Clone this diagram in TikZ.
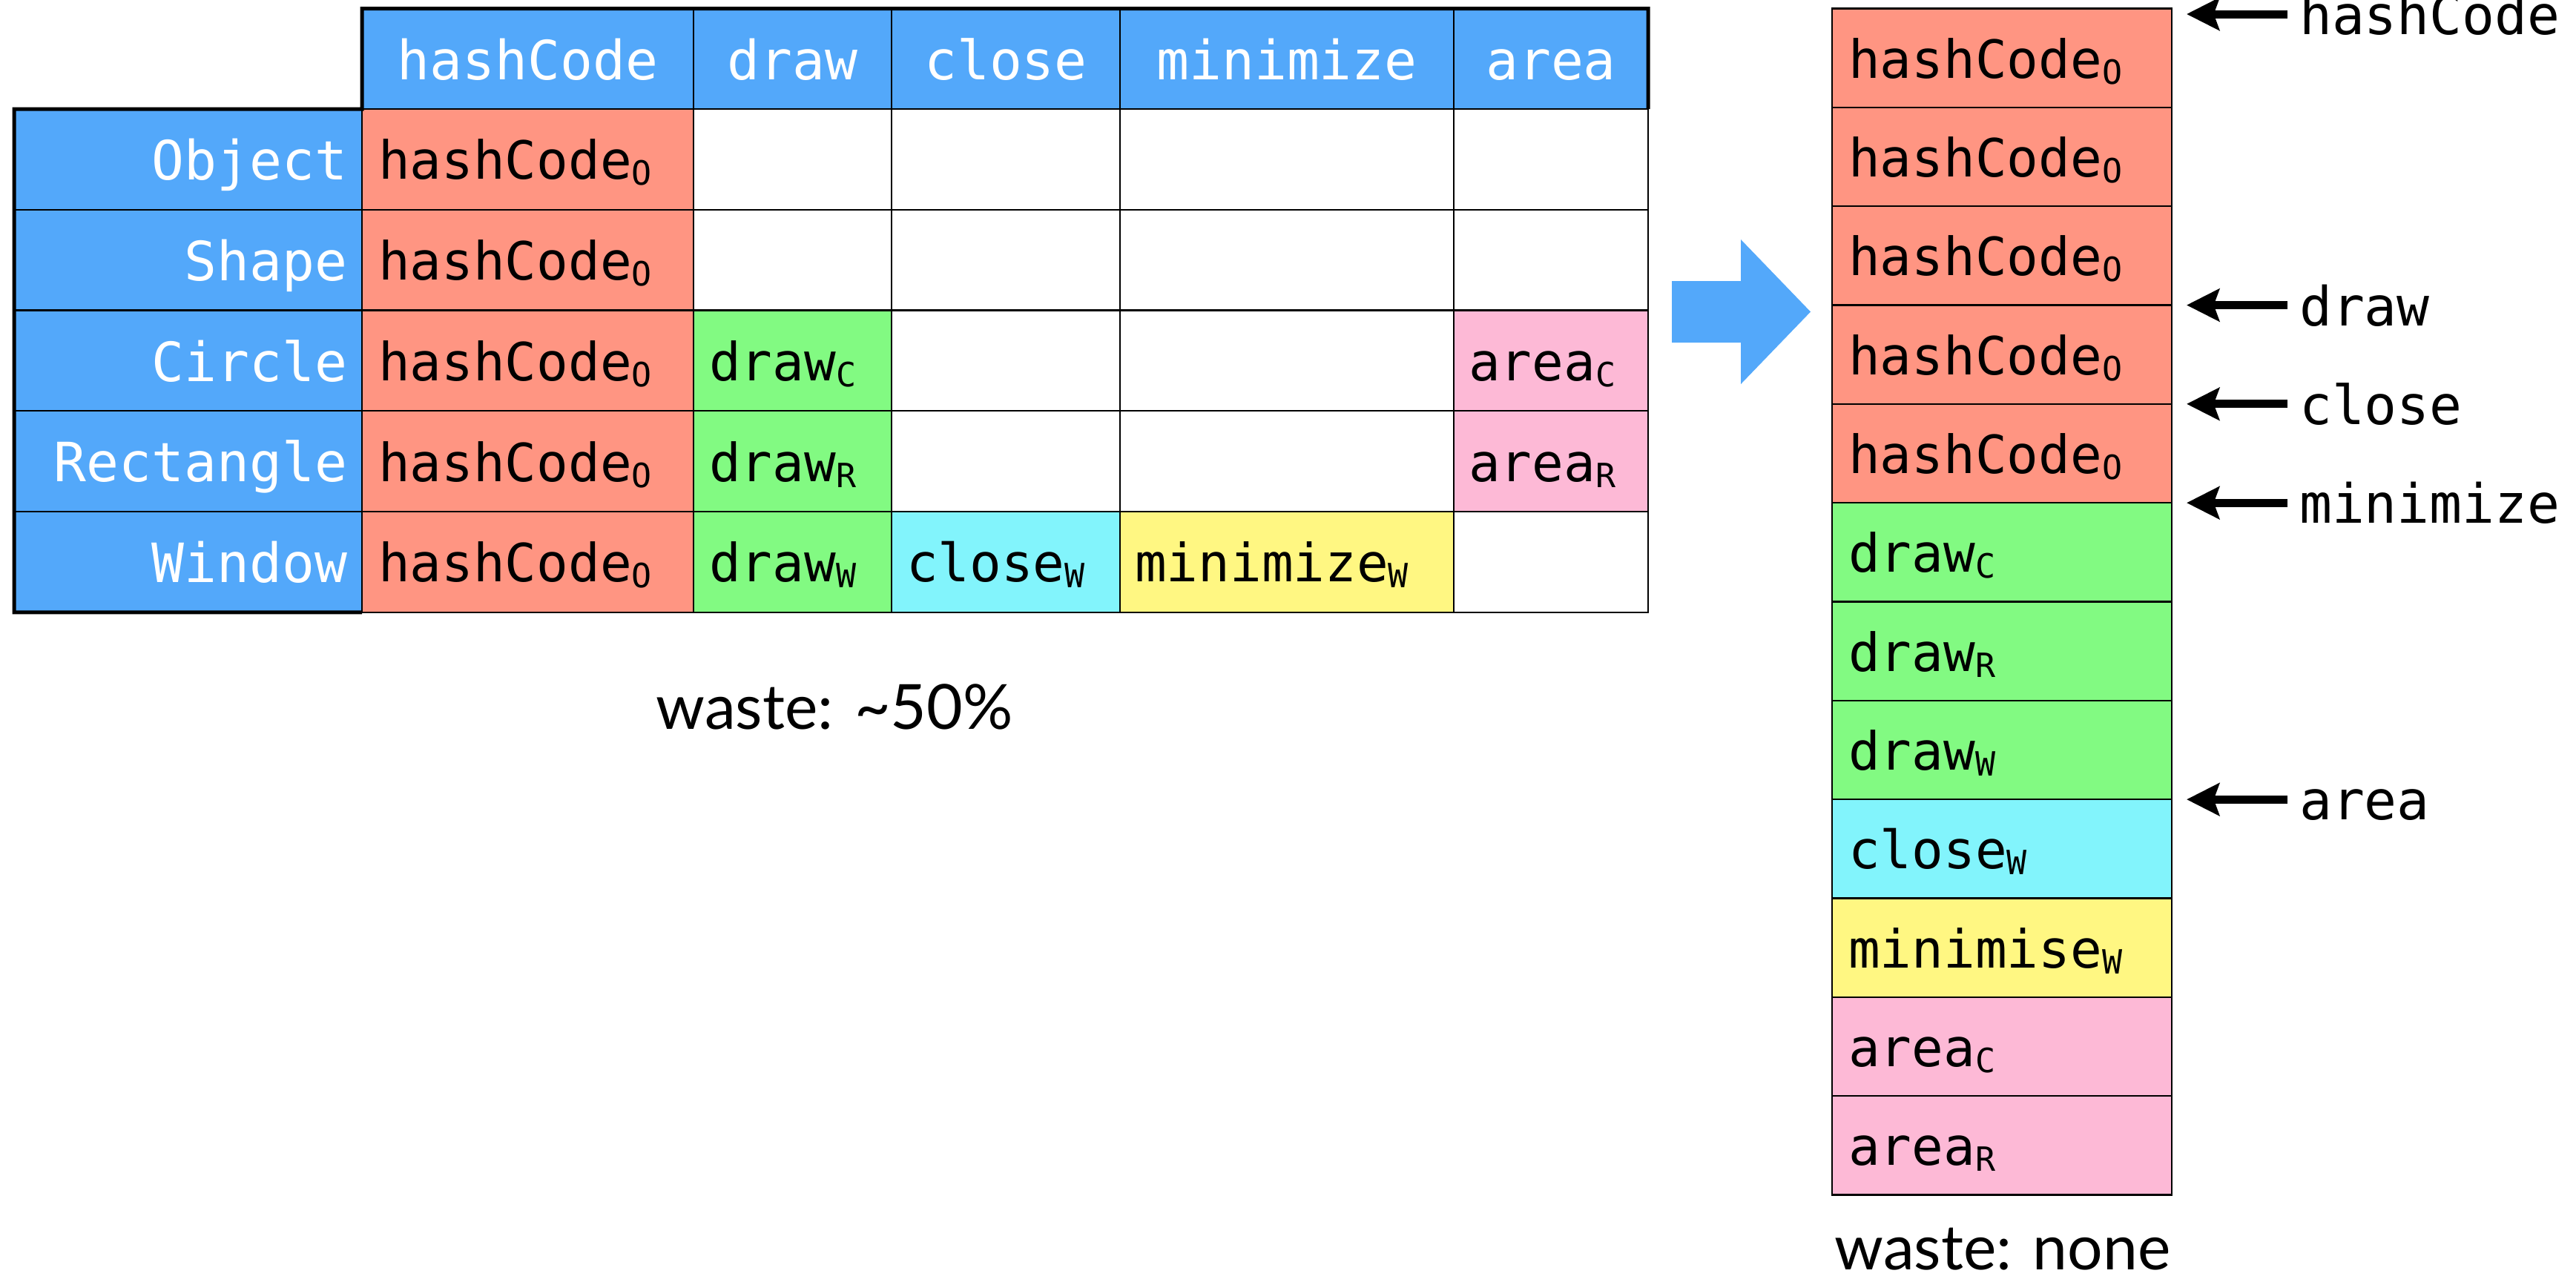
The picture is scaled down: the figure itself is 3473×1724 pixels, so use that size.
\documentclass[tikz,border=0pt]{standalone}
\usepackage{fontspec}
\usetikzlibrary{arrows.meta}
\newfontfamily\monof{DejaVu Sans Mono}
\newfontfamily\sansf{Lato}
\definecolor{hdrblue}{HTML}{53A8FA}
\definecolor{salmon}{HTML}{FF9582}
\definecolor{mgreen}{HTML}{82FA82}
\definecolor{mcyan}{HTML}{82F4FC}
\definecolor{myellow}{HTML}{FFF782}
\definecolor{mpink}{HTML}{FDB9D6}
\newcommand{\sbs}[1]{\raisebox{-1.6pt}{\fontsize{9}{9}\selectfont #1}}
\begin{document}
\begin{tikzpicture}[x=0.2pt,y=-0.2pt, line join=miter,
 every node/.style={outer sep=0pt},
 cellbox/.style={draw=black, line width=0.45pt, inner sep=0pt, anchor=north west, minimum height=27.15pt},
 celltxt/.style={inner sep=0pt, anchor=west, font=\monof\fontsize{14.2}{17}\selectfont, text height=10.8pt, text depth=0pt},
 hdrbox/.style={cellbox, fill=hdrblue, text=white, minimum height=27.1pt, font=\monof\fontsize{14.6}{17}\selectfont, text height=11.1pt, text depth=0pt},
 lblbox/.style={cellbox, fill=hdrblue, minimum width=93.8pt},
 lbltxt/.style={inner sep=0pt, anchor=east, text=white, font=\monof\fontsize{14.6}{17}\selectfont, text height=11.1pt, text depth=0pt},
 stackbox/.style={draw=black, line width=0.5pt, inner sep=0pt, anchor=north west, minimum width=91.6pt, minimum height=26.667pt},
 outline/.style={draw=black, line width=1pt},
 ptr/.style={draw=black, line width=2.2pt, -{Stealth[length=8.8pt,width=8.7pt,inset=1.5pt]}},
 ptrlbl/.style={anchor=west, inner xsep=3.2pt, inner ysep=0pt, font=\monof\fontsize{14.6}{17}\selectfont, text height=11.1pt, text depth=0pt},
 waste/.style={anchor=base, inner sep=0pt, font=\sansf\fontsize{16.8}{20}\selectfont}
]
\useasboundingbox (0,0) rectangle (3473,1724);

% ---- body cells ----
% Object
\node[cellbox, fill=salmon, minimum width=89.4pt] (cOHash) at (488,147) {};
\node[cellbox, fill=white, minimum width=53.4pt] (cODraw) at (935,147) {};
\node[cellbox, fill=white, minimum width=61.6pt] (cOClose) at (1202,147) {};
\node[cellbox, fill=white, minimum width=90pt] (cOMin) at (1510,147) {};
\node[cellbox, fill=white, minimum width=52.4pt] (cOArea) at (1960,147) {};
% Shape
\node[cellbox, fill=salmon, minimum width=89.4pt] (cSHash) at (488,282.75) {};
\node[cellbox, fill=white, minimum width=53.4pt] (cSDraw) at (935,282.75) {};
\node[cellbox, fill=white, minimum width=61.6pt] (cSClose) at (1202,282.75) {};
\node[cellbox, fill=white, minimum width=90pt] (cSMin) at (1510,282.75) {};
\node[cellbox, fill=white, minimum width=52.4pt] (cSArea) at (1960,282.75) {};
% Circle
\node[cellbox, fill=salmon, minimum width=89.4pt] (cCHash) at (488,418.5) {};
\node[cellbox, fill=mgreen, minimum width=53.4pt] (cCDraw) at (935,418.5) {};
\node[cellbox, fill=white, minimum width=61.6pt] (cCClose) at (1202,418.5) {};
\node[cellbox, fill=white, minimum width=90pt] (cCMin) at (1510,418.5) {};
\node[cellbox, fill=mpink, minimum width=52.4pt] (cCArea) at (1960,418.5) {};
% Rectangle
\node[cellbox, fill=salmon, minimum width=89.4pt] (cRHash) at (488,554.25) {};
\node[cellbox, fill=mgreen, minimum width=53.4pt] (cRDraw) at (935,554.25) {};
\node[cellbox, fill=white, minimum width=61.6pt] (cRClose) at (1202,554.25) {};
\node[cellbox, fill=white, minimum width=90pt] (cRMin) at (1510,554.25) {};
\node[cellbox, fill=mpink, minimum width=52.4pt] (cRArea) at (1960,554.25) {};
% Window
\node[cellbox, fill=salmon, minimum width=89.4pt] (cWHash) at (488,690) {};
\node[cellbox, fill=mgreen, minimum width=53.4pt] (cWDraw) at (935,690) {};
\node[cellbox, fill=mcyan, minimum width=61.6pt] (cWClose) at (1202,690) {};
\node[cellbox, fill=myellow, minimum width=90pt] (cWMin) at (1510,690) {};
\node[cellbox, fill=white, minimum width=52.4pt] (cWArea) at (1960,690) {};

% ---- body texts ----
\node[celltxt] (tOHash) at ([xshift=4.4pt]cOHash.west) {hashCode\sbs{O}};
\node[celltxt] (tSHash) at ([xshift=4.4pt]cSHash.west) {hashCode\sbs{O}};
\node[celltxt] (tCHash) at ([xshift=4.4pt]cCHash.west) {hashCode\sbs{O}};
\node[celltxt] (tRHash) at ([xshift=4.4pt]cRHash.west) {hashCode\sbs{O}};
\node[celltxt] (tWHash) at ([xshift=4.4pt]cWHash.west) {hashCode\sbs{O}};
\node[celltxt] (tCDraw) at ([xshift=4.2pt]cCDraw.west) {draw\sbs{C}};
\node[celltxt] (tRDraw) at ([xshift=4.2pt]cRDraw.west) {draw\sbs{R}};
\node[celltxt] (tWDraw) at ([xshift=4.2pt]cWDraw.west) {draw\sbs{W}};
\node[celltxt] (tWClose) at ([xshift=4pt]cWClose.west) {close\sbs{W}};
\node[celltxt] (tWMin) at ([xshift=4pt]cWMin.west) {minimize\sbs{W}};
\node[celltxt] (tCArea) at ([xshift=4pt]cCArea.west) {area\sbs{C}};
\node[celltxt] (tRArea) at ([xshift=4pt]cRArea.west) {area\sbs{R}};

% ---- row labels ----
\node[lblbox] (lObj) at (19,147) {};
\node[lblbox] (lSha) at (19,282.75) {};
\node[lblbox] (lCir) at (19,418.5) {};
\node[lblbox] (lRec) at (19,554.25) {};
\node[lblbox] (lWin) at (19,690) {};
\node[lbltxt] (tObj) at ([xshift=-4pt]lObj.east) {Object};
\node[lbltxt] (tSha) at ([xshift=-4pt]lSha.east) {Shape};
\node[lbltxt] (tCir) at ([xshift=-4pt]lCir.east) {Circle};
\node[lbltxt] (tRec) at ([xshift=-4pt]lRec.east) {Rectangle};
\node[lbltxt] (tWin) at ([xshift=-4pt]lWin.east) {Window};

% ---- headers ----
\node[hdrbox, minimum width=89.4pt] (hHash) at (488,11.5) {hashCode};
\node[hdrbox, minimum width=53.4pt] (hDraw) at (935,11.5) {draw};
\node[hdrbox, minimum width=61.6pt] (hClose) at (1202,11.5) {close};
\node[hdrbox, minimum width=90pt] (hMin) at (1510,11.5) {minimize};
\node[hdrbox, minimum width=52.4pt] (hArea) at (1960,11.5) {area};

% ---- thick outline ----
\draw[outline] (hArea.south east) -- (hArea.north east) -- (hHash.north west) -- (hHash.south west)
  -- (lObj.north west) -- (lWin.south west) -- (lWin.south east);

% ---- big blue arrow ----
\fill[hdrblue] (2254,379) -- (2347,379) -- (2347,323) -- (2441,420.5) -- (2347,518) -- (2347,462) -- (2254,462) -- cycle;

% ---- stack ----
\node[stackbox, fill=salmon] (s1) at (2470,11.5) {};
\node[stackbox, fill=salmon] (s2) at (2470,144.83) {};
\node[stackbox, fill=salmon] (s3) at (2470,278.17) {};
\node[stackbox, fill=salmon] (s4) at (2470,411.5) {};
\node[stackbox, fill=salmon] (s5) at (2470,544.83) {};
\node[stackbox, fill=mgreen] (s6) at (2470,678.17) {};
\node[stackbox, fill=mgreen] (s7) at (2470,811.5) {};
\node[stackbox, fill=mgreen] (s8) at (2470,944.83) {};
\node[stackbox, fill=mcyan] (s9) at (2470,1078.17) {};
\node[stackbox, fill=myellow] (s10) at (2470,1211.5) {};
\node[stackbox, fill=mpink] (s11) at (2470,1344.83) {};
\node[stackbox, fill=mpink] (s12) at (2470,1478.17) {};
\node[celltxt] (u1) at ([xshift=4.4pt]s1.west) {hashCode\sbs{O}};
\node[celltxt] (u2) at ([xshift=4.4pt]s2.west) {hashCode\sbs{O}};
\node[celltxt] (u3) at ([xshift=4.4pt]s3.west) {hashCode\sbs{O}};
\node[celltxt] (u4) at ([xshift=4.4pt]s4.west) {hashCode\sbs{O}};
\node[celltxt] (u5) at ([xshift=4.4pt]s5.west) {hashCode\sbs{O}};
\node[celltxt] (u6) at ([xshift=4.4pt]s6.west) {draw\sbs{C}};
\node[celltxt] (u7) at ([xshift=4.4pt]s7.west) {draw\sbs{R}};
\node[celltxt] (u8) at ([xshift=4.4pt]s8.west) {draw\sbs{W}};
\node[celltxt] (u9) at ([xshift=4.4pt]s9.west) {close\sbs{W}};
\node[celltxt] (u10) at ([xshift=4.4pt]s10.west) {minimise\sbs{W}};
\node[celltxt] (u11) at ([xshift=4.4pt]s11.west) {area\sbs{C}};
\node[celltxt] (u12) at ([xshift=4.4pt]s12.west) {area\sbs{R}};

% ---- pointers ----
\coordinate (pHash) at ([xshift=4pt,yshift=-1.5pt]s1.north east);
\coordinate (pDraw) at ([xshift=4pt]s4.north east);
\coordinate (pClose) at ([xshift=4pt]s5.north east);
\coordinate (pMin) at ([xshift=4pt]s6.north east);
\coordinate (pArea) at ([xshift=4pt]s9.north east);
\node[ptrlbl] (kHash) at ([xshift=27.2pt]pHash) {hashCode};
\node[ptrlbl] (kDraw) at ([xshift=27.2pt]pDraw) {draw};
\node[ptrlbl] (kClose) at ([xshift=27.2pt]pClose) {close};
\node[ptrlbl] (kMin) at ([xshift=27.2pt]pMin) {minimize};
\node[ptrlbl] (kArea) at ([xshift=27.2pt]pArea) {area};
\draw[ptr] (kHash.west) -- (pHash);
\draw[ptr] (kDraw.west) -- (pDraw);
\draw[ptr] (kClose.west) -- (pClose);
\draw[ptr] (kMin.west) -- (pMin);
\draw[ptr] (kArea.west) -- (pArea);

% ---- captions ----
\node[waste] (w1) at (1125,983) {waste: \textasciitilde 50\%};
\node[waste] (w2) at (2700,1712) {waste: none};
\end{tikzpicture}
\end{document}
